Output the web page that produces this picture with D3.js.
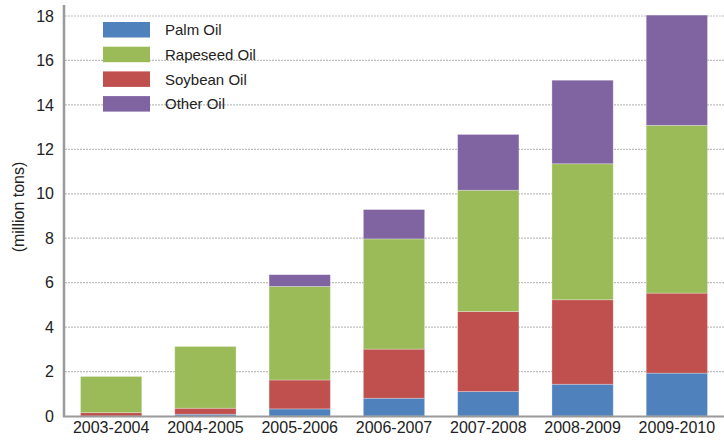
<!DOCTYPE html>
<html><head><meta charset="utf-8">
<script src="https://cdn.jsdelivr.net/npm/d3@7"></script>
<style>body{margin:0;background:#fff}svg{display:block}</style>
</head><body>
<script>
const categories = ["2003-2004","2004-2005","2005-2006","2006-2007","2007-2008","2008-2009","2009-2010"];
const seriesNames = ["Palm Oil","Rapeseed Oil","Soybean Oil","Other Oil"];
const stackOrder = ["Palm Oil","Soybean Oil","Rapeseed Oil","Other Oil"];
const palmOil     = [0.00, 0.08, 0.32, 0.80, 1.10, 1.43, 1.93];
const soybeanOil  = [0.15, 0.27, 1.30, 2.21, 3.60, 3.80, 3.60];
const rapeseedOil = [1.63, 2.78, 4.21, 4.96, 5.46, 6.12, 7.55];
const otherOil    = [0.00, 0.00, 0.53, 1.32, 2.51, 3.76, 4.96];
const yTicks = [0,2,4,6,8,10,12,14,16,18];
const colors = {"Palm Oil":"#4F81BD","Rapeseed Oil":"#9BBB59","Soybean Oil":"#C0504D","Other Oil":"#8064A2"};

const W=724,H=445;
const svg=d3.select("body").append("svg").attr("width",W).attr("height",H);
const font="'Liberation Sans', Arial, sans-serif";

const rows=categories.map((c,i)=>({cat:c,"Palm Oil":palmOil[i],"Soybean Oil":soybeanOil[i],"Rapeseed Oil":rapeseedOil[i],"Other Oil":otherOil[i]}));
const x=d3.scaleBand().domain(categories).range([64,724]).paddingInner(0.35).paddingOuter(0.175);
const y=d3.scaleLinear().domain([0,18]).range([416,16]);

// gridlines
svg.append("g").selectAll("line").data(yTicks.filter(t=>t>0)).join("line")
  .attr("x1",65).attr("x2",W).attr("y1",d=>y(d)).attr("y2",d=>y(d))
  .attr("stroke","#bdbdbd").attr("stroke-width",1.2).attr("stroke-dasharray","2,1");

const stack=d3.stack().keys(stackOrder)(rows);
svg.append("g").selectAll("g").data(stack).join("g").attr("fill",d=>colors[d.key])
  .selectAll("rect").data(d=>d).join("rect")
  .attr("x",d=>x(d.data.cat)).attr("width",x.bandwidth())
  .attr("y",d=>y(d[1])).attr("height",d=>Math.max(0,y(d[0])-y(d[1])))
  .attr("stroke",d=>(d[1]-d[0])>0?"rgba(255,255,255,0.35)":"none").attr("stroke-width",0.8);

// axes
const yAxis=svg.append("g").attr("transform","translate(64,0)").call(d3.axisLeft(y).tickValues(yTicks).tickSize(0).tickPadding(10));
yAxis.select(".domain").remove();
yAxis.selectAll("text").attr("font-family",font).attr("font-size",16).attr("fill","#222");
svg.append("line").attr("x1",64).attr("x2",64).attr("y1",5).attr("y2",417).attr("stroke","#9a9a9a").attr("stroke-width",2.5);
svg.append("line").attr("x1",63).attr("x2",W).attr("y1",416.5).attr("y2",416.5).attr("stroke","#9a9a9a").attr("stroke-width",2);

const xAxis=svg.append("g").attr("transform","translate(0,416)").call(d3.axisBottom(x).tickSize(0).tickPadding(6));
xAxis.select(".domain").remove();
xAxis.selectAll("text").attr("font-family",font).attr("font-size",16).attr("fill","#222");

svg.append("text").attr("transform","translate(24,207) rotate(-90)").attr("text-anchor","middle")
  .attr("font-family",font).attr("font-size",16).attr("fill","#222").text("(million tons)");

// legend
const lg=svg.append("g").selectAll("g").data(seriesNames).join("g")
  .attr("transform",(d,i)=>`translate(103,${22+i*24.7})`);
lg.append("rect").attr("width",47).attr("height",15.5).attr("fill",d=>colors[d]);
lg.append("text").attr("x",62).attr("y",8).attr("dy","0.35em").attr("font-family",font).attr("font-size",15).attr("fill","#222").text(d=>d);
</script>
</body></html>
